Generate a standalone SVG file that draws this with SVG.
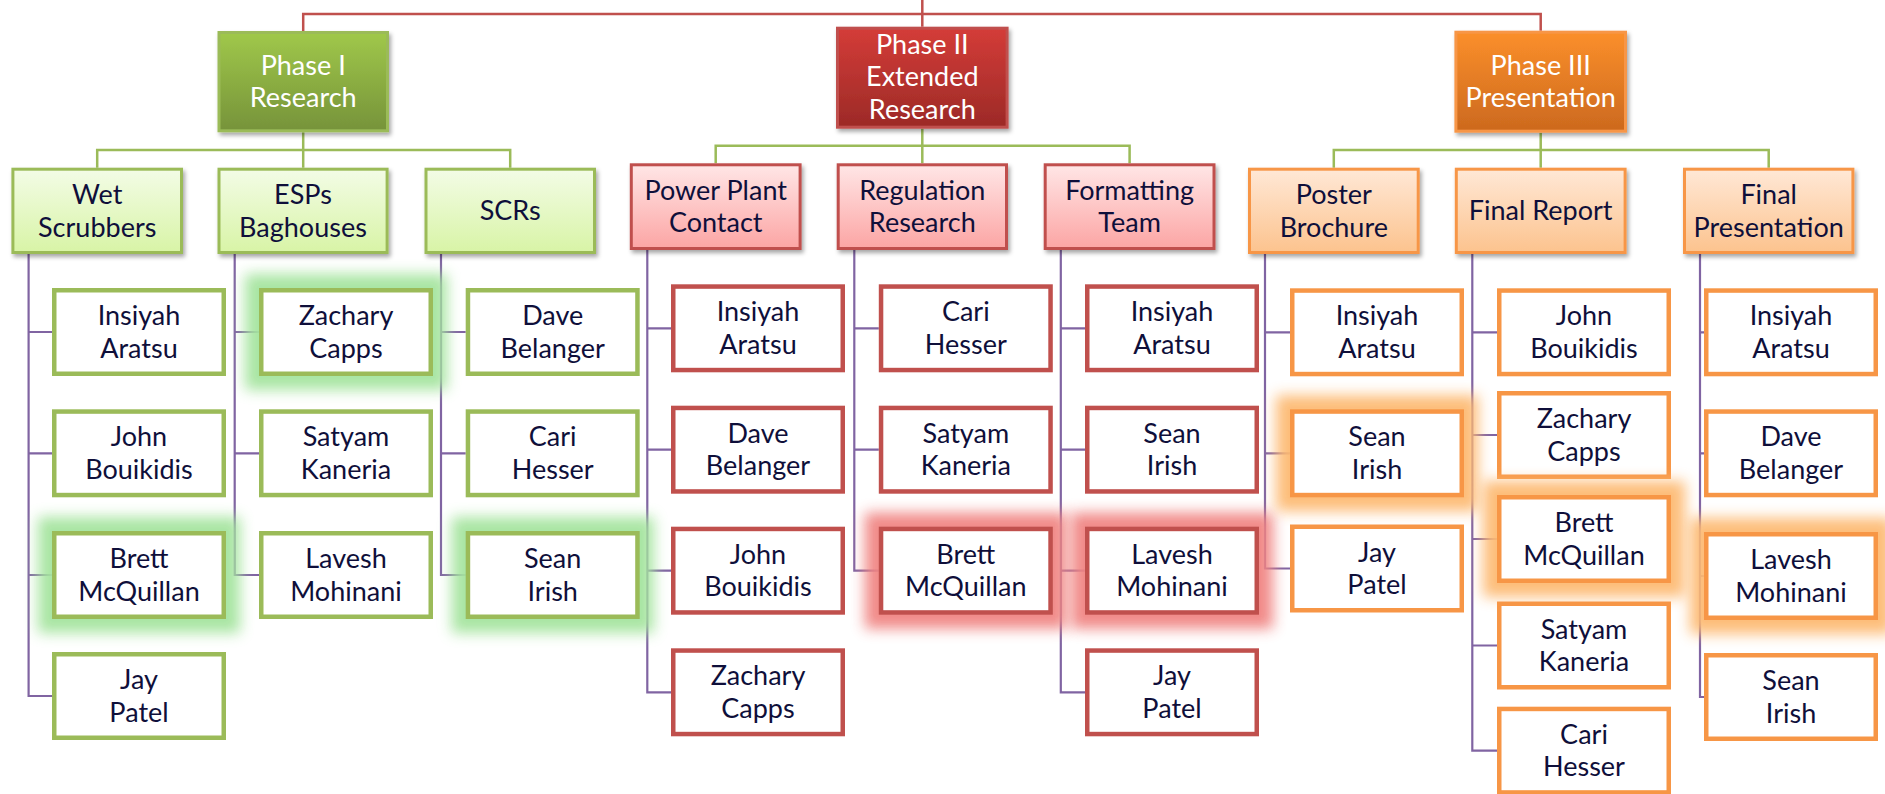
<svg xmlns="http://www.w3.org/2000/svg" width="1885" height="794" viewBox="0 0 1885 794">
<defs>
<linearGradient id="gPh" x1="0" y1="0" x2="0" y2="1"><stop offset="0" stop-color="#a0c84a"/><stop offset="1" stop-color="#76933a"/></linearGradient>
<linearGradient id="rPh" x1="0" y1="0" x2="0" y2="1"><stop offset="0" stop-color="#d43c38"/><stop offset="1" stop-color="#9c2a27"/></linearGradient>
<linearGradient id="oPh" x1="0" y1="0" x2="0" y2="1"><stop offset="0" stop-color="#fb8f2b"/><stop offset="1" stop-color="#cc691e"/></linearGradient>
<linearGradient id="gL2" x1="0" y1="0" x2="0" y2="1"><stop offset="0" stop-color="#f3fce6"/><stop offset="1" stop-color="#d8f4a6"/></linearGradient>
<linearGradient id="rL2" x1="0" y1="0" x2="0" y2="1"><stop offset="0" stop-color="#ffe6e6"/><stop offset="1" stop-color="#fca5a4"/></linearGradient>
<linearGradient id="oL2" x1="0" y1="0" x2="0" y2="1"><stop offset="0" stop-color="#ffe8d6"/><stop offset="1" stop-color="#fcc38e"/></linearGradient>
<filter id="sh" x="-10%" y="-10%" width="125%" height="130%"><feDropShadow dx="2" dy="3" stdDeviation="2" flood-color="#000" flood-opacity="0.35"/></filter>
<filter id="blur" x="-30%" y="-40%" width="160%" height="180%"><feGaussianBlur stdDeviation="7"/></filter>
</defs>
<style>
text{font-family:Lato,"Liberation Sans",sans-serif;font-size:27px;text-anchor:middle;fill:#0f0f3a}
.ph text{fill:#fff}
.ph rect{stroke-width:3;filter:url(#sh)}
.l2 rect{stroke-width:3;filter:url(#sh)}
.c rect.b{fill:#fff;stroke-width:4.5}
.G rect.b,.G.l2 rect,.G.ph rect{stroke:#9bbb59}
.R rect.b,.R.l2 rect,.R.ph rect{stroke:#c0504d}
.O rect.b,.O.l2 rect,.O.ph rect{stroke:#f79646}
.glow{filter:url(#blur);opacity:0.95}
.G .glow{fill:#a4e49e}
.R .glow{fill:#f08482}
.O .glow{fill:#fdba72}
.top{fill:none;stroke:#c0504d;stroke-width:2.5}
.grn{fill:none;stroke:#9bbb59;stroke-width:2.5}
.pur{fill:none;stroke:#8064a2;stroke-width:2.2}
</style>
<g id="connectors">
<path class="top" d="M303.2 31 V14 H1540.7 V30.7 M922.3 0 V26.7"/>
<path class="grn" d="M303.2 132.3 V150 M97.2 167.7 V150 H510.2 V167.7 M303.2 150 V167.7"/>
<path class="grn" d="M922.3 128.7 V145.7 M715.7 163.3 V145.7 H1129.6 V163.3 M922.3 145.7 V163.3"/>
<path class="grn" d="M1540.7 132.7 V150 M1333.8 167.7 V150 H1768.7 V167.7 M1540.7 150 V167.7"/>
<path class="pur" d="M28.6 254 V696 H52 M28.6 332 H52 M28.6 453.3 H52 M28.6 575 H52"/>
<path class="pur" d="M234.7 254 V575 H259 M234.7 332 H259 M234.7 453.3 H259"/>
<path class="pur" d="M441 254 V575 H465.7 M441 332 H465.7 M441 453.3 H465.7"/>
<path class="pur" d="M647.3 250 V692.3 H671 M647.3 328.3 H671 M647.3 449.7 H671 M647.3 570.7 H671"/>
<path class="pur" d="M854.3 250 V570.7 H878.8 M854.3 328.3 H878.8 M854.3 449.7 H878.8"/>
<path class="pur" d="M1060.8 250 V692.3 H1085 M1060.8 328.3 H1085 M1060.8 449.7 H1085 M1060.8 570.7 H1085"/>
<path class="pur" d="M1265 254 V568.5 H1290 M1265 332.3 H1290 M1265 453.3 H1290"/>
<path class="pur" d="M1472.3 254 V750.7 H1497 M1472.3 332.3 H1497 M1472.3 435 H1497 M1472.3 539 H1497 M1472.3 645.5 H1497"/>
<path class="pur" d="M1700 254 V697 H1704 M1700 332.3 H1704 M1700 453.3 H1704 M1700 576 H1704"/>
</g>

<g id="phase1" class="ph G"><rect x="219" y="32.5" width="168.5" height="98.3" fill="url(#gPh)"/><text><tspan x="303.2" y="74.6">Phase I</tspan><tspan x="303.2" y="107.3">Research</tspan></text></g>
<g id="phase2" class="ph R"><rect x="837.5" y="28.2" width="169.6" height="99" fill="url(#rPh)"/><text><tspan x="922.3" y="53.8">Phase II</tspan><tspan x="922.3" y="86.3">Extended</tspan><tspan x="922.3" y="118.8">Research</tspan></text></g>
<g id="phase3" class="ph O"><rect x="1455.9" y="32.2" width="169.6" height="99" fill="url(#oPh)"/><text><tspan x="1540.7" y="74.6">Phase III</tspan><tspan x="1540.7" y="107.3">Presentation</tspan></text></g>

<g id="wet" class="l2 G"><rect x="12.9" y="169.2" width="168.6" height="83.3" fill="url(#gL2)"/><text><tspan x="97.2" y="203.8">Wet</tspan><tspan x="97.2" y="236.5">Scrubbers</tspan></text></g>
<g id="esps" class="l2 G"><rect x="219" y="169.2" width="168.1" height="83.3" fill="url(#gL2)"/><text><tspan x="303" y="203.8">ESPs</tspan><tspan x="303" y="236.5">Baghouses</tspan></text></g>
<g id="scrs" class="l2 G"><rect x="426" y="169.2" width="168.5" height="83.3" fill="url(#gL2)"/><text x="510.2" y="220.2">SCRs</text></g>
<g id="ppc" class="l2 R"><rect x="631.3" y="164.8" width="168.8" height="83.7" fill="url(#rL2)"/><text><tspan x="715.7" y="199.6">Power Plant</tspan><tspan x="715.7" y="232.3">Contact</tspan></text></g>
<g id="regres" class="l2 R"><rect x="838.2" y="164.8" width="168.3" height="83.7" fill="url(#rL2)"/><text><tspan x="922.3" y="199.6">Regulation</tspan><tspan x="922.3" y="232.3">Research</tspan></text></g>
<g id="fmt" class="l2 R"><rect x="1045.2" y="164.8" width="168.8" height="83.7" fill="url(#rL2)"/><text><tspan x="1129.6" y="199.6">Formatting</tspan><tspan x="1129.6" y="232.3">Team</tspan></text></g>
<g id="poster" class="l2 O"><rect x="1249.5" y="169.2" width="168.7" height="83.3" fill="url(#oL2)"/><text><tspan x="1333.8" y="203.8">Poster</tspan><tspan x="1333.8" y="236.5">Brochure</tspan></text></g>
<g id="frep" class="l2 O"><rect x="1456.3" y="169.2" width="168.8" height="83.3" fill="url(#oL2)"/><text x="1540.7" y="220.2">Final Report</text></g>
<g id="fpres" class="l2 O"><rect x="1684.5" y="169.2" width="168.4" height="83.3" fill="url(#oL2)"/><text><tspan x="1768.7" y="203.8">Final</tspan><tspan x="1768.7" y="236.5">Presentation</tspan></text></g>

<g id="p1c1r1" class="c G"><rect class="b" x="54.25" y="290.25" width="169.5" height="83.5"/><text><tspan x="139" y="325">Insiyah</tspan><tspan x="139" y="357.7">Aratsu</tspan></text></g>
<g id="p1c1r2" class="c G"><rect class="b" x="54.25" y="411.55" width="169.5" height="83.5"/><text><tspan x="139" y="446.3">John</tspan><tspan x="139" y="479">Bouikidis</tspan></text></g>
<g id="p1c1r3" class="c G"><rect class="glow" x="38" y="517" width="202" height="116"/><rect class="b" x="54.25" y="533.25" width="169.5" height="83.5"/><text><tspan x="139" y="568">Brett</tspan><tspan x="139" y="600.7">McQuillan</tspan></text></g>
<g id="p1c1r4" class="c G"><rect class="b" x="54.25" y="654.25" width="169.5" height="83.5"/><text><tspan x="139" y="689">Jay</tspan><tspan x="139" y="721.7">Patel</tspan></text></g>

<g id="p1c2r1" class="c G"><rect class="glow" x="245" y="274" width="202" height="116"/><rect class="b" x="261.25" y="290.25" width="169.5" height="83.5"/><text><tspan x="346" y="325">Zachary</tspan><tspan x="346" y="357.7">Capps</tspan></text></g>
<g id="p1c2r2" class="c G"><rect class="b" x="261.25" y="411.55" width="169.5" height="83.5"/><text><tspan x="346" y="446.3">Satyam</tspan><tspan x="346" y="479">Kaneria</tspan></text></g>
<g id="p1c2r3" class="c G"><rect class="b" x="261.25" y="533.25" width="169.5" height="83.5"/><text><tspan x="346" y="568">Lavesh</tspan><tspan x="346" y="600.7">Mohinani</tspan></text></g>

<g id="p1c3r1" class="c G"><rect class="b" x="467.95" y="290.25" width="169.5" height="83.5"/><text><tspan x="552.7" y="325">Dave</tspan><tspan x="552.7" y="357.7">Belanger</tspan></text></g>
<g id="p1c3r2" class="c G"><rect class="b" x="467.95" y="411.55" width="169.5" height="83.5"/><text><tspan x="552.7" y="446.3">Cari</tspan><tspan x="552.7" y="479">Hesser</tspan></text></g>
<g id="p1c3r3" class="c G"><rect class="glow" x="451.7" y="517" width="202" height="116"/><rect class="b" x="467.95" y="533.25" width="169.5" height="83.5"/><text><tspan x="552.7" y="568">Sean</tspan><tspan x="552.7" y="600.7">Irish</tspan></text></g>

<g id="p2c1r1" class="c R"><rect class="b" x="673.25" y="286.55" width="169.5" height="83.5"/><text><tspan x="758" y="321.3">Insiyah</tspan><tspan x="758" y="354">Aratsu</tspan></text></g>
<g id="p2c1r2" class="c R"><rect class="b" x="673.25" y="407.95" width="169.5" height="83.5"/><text><tspan x="758" y="442.7">Dave</tspan><tspan x="758" y="475.4">Belanger</tspan></text></g>
<g id="p2c1r3" class="c R"><rect class="b" x="673.25" y="528.95" width="169.5" height="83.5"/><text><tspan x="758" y="563.7">John</tspan><tspan x="758" y="596.4">Bouikidis</tspan></text></g>
<g id="p2c1r4" class="c R"><rect class="b" x="673.25" y="650.55" width="169.5" height="83.5"/><text><tspan x="758" y="685.3">Zachary</tspan><tspan x="758" y="718">Capps</tspan></text></g>

<g id="p2c2r1" class="c R"><rect class="b" x="881.05" y="286.55" width="169.5" height="83.5"/><text><tspan x="965.8" y="321.3">Cari</tspan><tspan x="965.8" y="354">Hesser</tspan></text></g>
<g id="p2c2r2" class="c R"><rect class="b" x="881.05" y="407.95" width="169.5" height="83.5"/><text><tspan x="965.8" y="442.7">Satyam</tspan><tspan x="965.8" y="475.4">Kaneria</tspan></text></g>
<g id="p2c2r3" class="c R"><rect class="glow" x="864.8" y="512.7" width="202" height="116"/><rect class="b" x="881.05" y="528.95" width="169.5" height="83.5"/><text><tspan x="965.8" y="563.7">Brett</tspan><tspan x="965.8" y="596.4">McQuillan</tspan></text></g>

<g id="p2c3r1" class="c R"><rect class="b" x="1087.25" y="286.55" width="169.5" height="83.5"/><text><tspan x="1172" y="321.3">Insiyah</tspan><tspan x="1172" y="354">Aratsu</tspan></text></g>
<g id="p2c3r2" class="c R"><rect class="b" x="1087.25" y="407.95" width="169.5" height="83.5"/><text><tspan x="1172" y="442.7">Sean</tspan><tspan x="1172" y="475.4">Irish</tspan></text></g>
<g id="p2c3r3" class="c R"><rect class="glow" x="1071" y="512.7" width="202" height="116"/><rect class="b" x="1087.25" y="528.95" width="169.5" height="83.5"/><text><tspan x="1172" y="563.7">Lavesh</tspan><tspan x="1172" y="596.4">Mohinani</tspan></text></g>
<g id="p2c3r4" class="c R"><rect class="b" x="1087.25" y="650.55" width="169.5" height="83.5"/><text><tspan x="1172" y="685.3">Jay</tspan><tspan x="1172" y="718">Patel</tspan></text></g>

<g id="p3c1r1" class="c O"><rect class="b" x="1292.25" y="290.55" width="169.5" height="83.5"/><text><tspan x="1377" y="325.3">Insiyah</tspan><tspan x="1377" y="358">Aratsu</tspan></text></g>
<g id="p3c1r2" class="c O"><rect class="glow" x="1276" y="395.3" width="202" height="116"/><rect class="b" x="1292.25" y="411.55" width="169.5" height="83.5"/><text><tspan x="1377" y="446.3">Sean</tspan><tspan x="1377" y="479">Irish</tspan></text></g>
<g id="p3c1r3" class="c O"><rect class="b" x="1292.25" y="526.75" width="169.5" height="83.5"/><text><tspan x="1377" y="561.5">Jay</tspan><tspan x="1377" y="594.2">Patel</tspan></text></g>

<g id="p3c2r1" class="c O"><rect class="b" x="1499.25" y="290.55" width="169.5" height="83.5"/><text><tspan x="1584" y="325.3">John</tspan><tspan x="1584" y="358">Bouikidis</tspan></text></g>
<g id="p3c2r2" class="c O"><rect class="b" x="1499.25" y="393.25" width="169.5" height="83.5"/><text><tspan x="1584" y="428">Zachary</tspan><tspan x="1584" y="460.7">Capps</tspan></text></g>
<g id="p3c2r3" class="c O"><rect class="glow" x="1483" y="481" width="202" height="116"/><rect class="b" x="1499.25" y="497.25" width="169.5" height="83.5"/><text><tspan x="1584" y="532">Brett</tspan><tspan x="1584" y="564.7">McQuillan</tspan></text></g>
<g id="p3c2r4" class="c O"><rect class="b" x="1499.25" y="603.75" width="169.5" height="83.5"/><text><tspan x="1584" y="638.5">Satyam</tspan><tspan x="1584" y="671.2">Kaneria</tspan></text></g>
<g id="p3c2r5" class="c O"><rect class="b" x="1499.25" y="708.95" width="169.5" height="83.5"/><text><tspan x="1584" y="743.7">Cari</tspan><tspan x="1584" y="776.4">Hesser</tspan></text></g>

<g id="p3c3r1" class="c O"><rect class="b" x="1706.25" y="290.55" width="169.5" height="83.5"/><text><tspan x="1791" y="325.3">Insiyah</tspan><tspan x="1791" y="358">Aratsu</tspan></text></g>
<g id="p3c3r2" class="c O"><rect class="b" x="1706.25" y="411.55" width="169.5" height="83.5"/><text><tspan x="1791" y="446.3">Dave</tspan><tspan x="1791" y="479">Belanger</tspan></text></g>
<g id="p3c3r3" class="c O"><rect class="glow" x="1690" y="518" width="202" height="116"/><rect class="b" x="1706.25" y="534.25" width="169.5" height="83.5"/><text><tspan x="1791" y="569">Lavesh</tspan><tspan x="1791" y="601.7">Mohinani</tspan></text></g>
<g id="p3c3r4" class="c O"><rect class="b" x="1706.25" y="655.25" width="169.5" height="83.5"/><text><tspan x="1791" y="690">Sean</tspan><tspan x="1791" y="722.7">Irish</tspan></text></g>
</svg>
